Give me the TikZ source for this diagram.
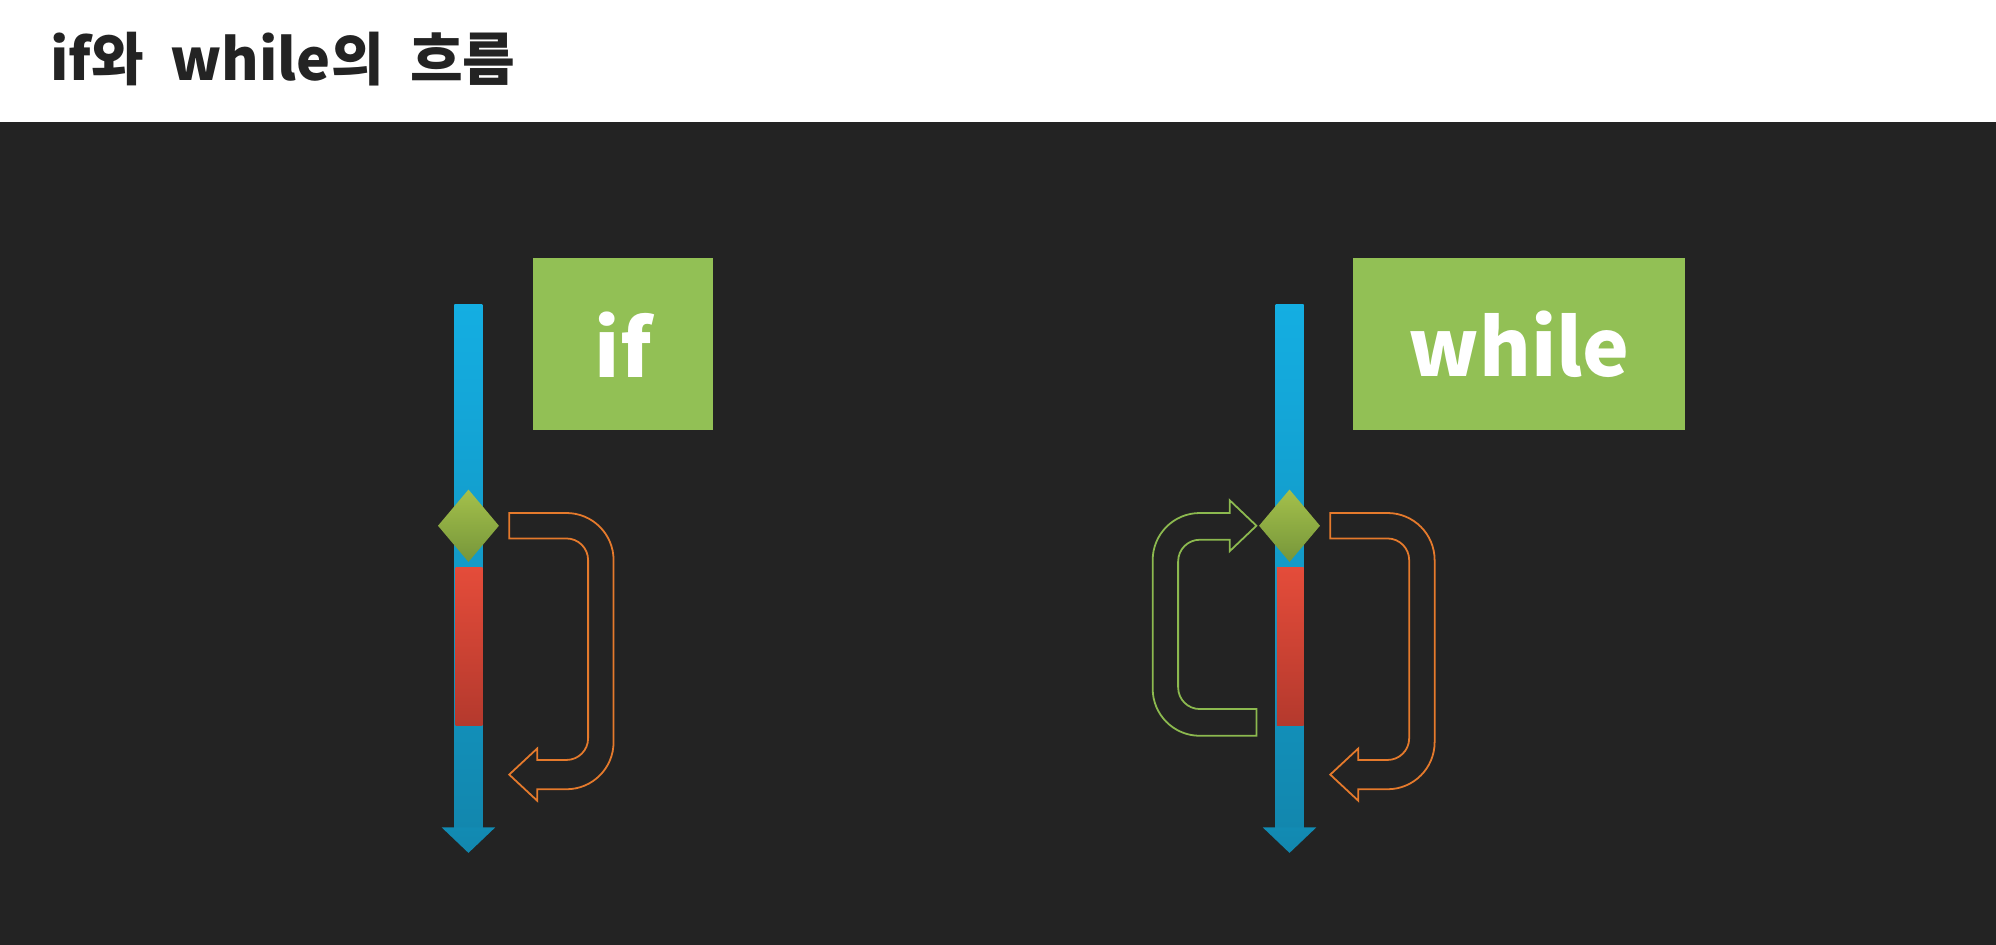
\documentclass[tikz,border=0pt]{standalone}
\usepackage{fontspec}
\newfontfamily\krfont{Noto Sans CJK KR}
\usetikzlibrary{shapes.geometric}

\definecolor{bgdark}{HTML}{232323}
\definecolor{bartop}{HTML}{14AEE2}
\definecolor{barbot}{HTML}{1287AE}
\definecolor{redtop}{HTML}{E44C3A}
\definecolor{redbot}{HTML}{B4392D}
\definecolor{boxgreen}{HTML}{92C055}
\definecolor{condtop}{HTML}{A4C04B}
\definecolor{condbot}{HTML}{76963A}
\definecolor{turnorange}{HTML}{E57A2C}
\definecolor{loopgreen}{HTML}{8CB94F}

\tikzset{
  keyword/.style={fill=boxgreen, text=white, inner sep=0pt, minimum height=135pt,
    font=\krfont\bfseries\fontsize{62}{62}\selectfont},
  cond/.style={diamond, inner sep=0pt, minimum width=48pt, minimum height=57pt,
    top color=condtop, bottom color=condbot},
  turn/.style={draw=turnorange, line width=1.4pt, line join=miter},
  loop/.style={draw=loopgreen, line width=1.4pt, line join=miter}
}

\begin{document}
\begin{tikzpicture}[x=1pt,y=1pt]
\useasboundingbox (0,0) rectangle (1568,-742);
\fill[white] (0,0) rectangle (1568,-96);
\fill[bgdark] (0,-96) rectangle (1568,-742);

\node[anchor=base west, font=\krfont\bfseries\fontsize{45}{45}\selectfont, text=bgdark]
  (title) at (36,-63) {if와\ \ while의\ \ 흐름};

% if
\begin{scope}
\shade[top color=bartop, bottom color=barbot] (357,-239) rectangle (379,-651);
\shade[top color=barbot!90!bartop, bottom color=barbot] (347,-650) -- (389,-650) -- (368,-670) -- cycle;
\shade[top color=redtop, bottom color=redbot] (358,-446) rectangle (379,-570);
\node[cond] (cif) at (368,-413) {};
\node[keyword, minimum width=141pt] (kif) at (489.5,-270.5) {if};
\draw[turn] (400,-403) -- (445,-403) arc[start angle=90, end angle=0, radius=37]
  -- (482,-583) arc[start angle=0, end angle=-90, radius=37]
  -- (422,-620) -- (422,-629) -- (400,-608.5) -- (422,-588) -- (422,-597)
  -- (445,-597) arc[start angle=-90, end angle=0, radius=17]
  -- (462,-440) arc[start angle=0, end angle=90, radius=17]
  -- (400,-423) -- cycle;
\end{scope}

% while
\begin{scope}[xshift=645pt]
\shade[top color=bartop, bottom color=barbot] (357,-239) rectangle (379,-651);
\shade[top color=barbot!90!bartop, bottom color=barbot] (347,-650) -- (389,-650) -- (368,-670) -- cycle;
\shade[top color=redtop, bottom color=redbot] (358,-446) rectangle (379,-570);
\node[cond] (cwhile) at (368,-413) {};
\node[keyword, minimum width=261pt] (kwhile) at (548.5,-270.5) {while};
\draw[turn] (400,-403) -- (445,-403) arc[start angle=90, end angle=0, radius=37]
  -- (482,-583) arc[start angle=0, end angle=-90, radius=37]
  -- (422,-620) -- (422,-629) -- (400,-608.5) -- (422,-588) -- (422,-597)
  -- (445,-597) arc[start angle=-90, end angle=0, radius=17]
  -- (462,-440) arc[start angle=0, end angle=90, radius=17]
  -- (400,-423) -- cycle;
\draw[loop] (342,-557) -- (342,-578) -- (297.5,-578) arc[start angle=-90, end angle=-180, radius=37]
  -- (260.5,-440) arc[start angle=180, end angle=90, radius=37]
  -- (321,-403) -- (321,-393) -- (342,-413) -- (321,-433) -- (321,-424)
  -- (297.5,-424) arc[start angle=90, end angle=180, radius=17]
  -- (280.5,-540) arc[start angle=180, end angle=270, radius=17]
  -- cycle;
\end{scope}

\end{tikzpicture}
\end{document}
